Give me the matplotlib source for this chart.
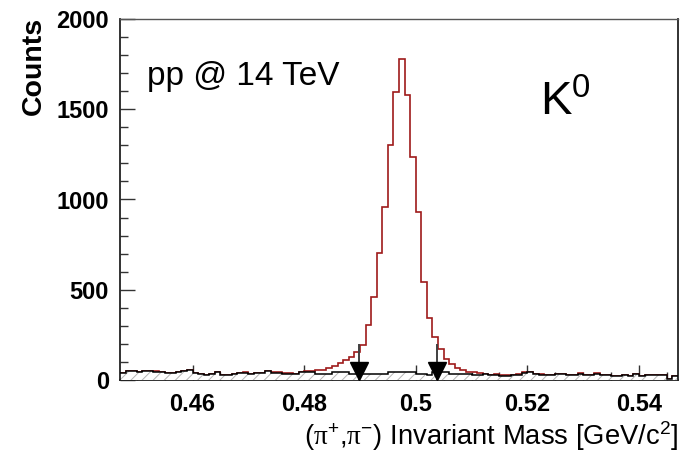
import matplotlib
matplotlib.use("Agg")
import matplotlib.pyplot as plt
import numpy as np

# pi+ pi- invariant mass, K0 peak, 100 bins of 1 MeV
mass_lo = 0.447
bin_width = 0.001

# background (black, hatched)
background = [
    37, 48, 48, 42, 48, 48, 42, 42, 37, 37,
    42, 48, 55, 37, 33, 29, 33, 42, 29, 29,
    33, 37, 37, 33, 37, 37, 48, 37, 37, 33,
    33, 33, 42, 42, 42, 33, 33, 33, 42, 42,
    42, 33, 33, 33, 33, 33, 33, 33, 42, 42,
    42, 42, 42, 33, 33, 29, 42, 42, 42, 33,
    33, 33, 33, 29, 29, 33, 29, 29, 24, 24,
    29, 29, 37, 42, 33, 29, 29, 29, 33, 33,
    29, 29, 33, 29, 29, 33, 29, 29, 24, 24,
    29, 24, 33, 24, 29, 29, 29, 29, 8, 22,
]

# signal + background (red)
total = [
    37, 48, 48, 42, 48, 48, 51, 42, 37, 37,
    42, 51, 55, 37, 33, 29, 33, 42, 29, 29,
    33, 37, 42, 33, 37, 37, 51, 42, 42, 37,
    37, 33, 46, 48, 51, 55, 58, 66, 79, 94,
    111, 129, 157, 194, 305, 461, 703, 960, 1302, 1597,
    1778, 1579, 1235, 930, 543, 343, 240, 172, 116, 89,
    66, 55, 45, 42, 40, 33, 29, 33, 29, 29,
    29, 33, 42, 42, 33, 33, 29, 29, 33, 33,
    29, 29, 37, 29, 29, 37, 29, 29, 24, 24,
    29, 24, 33, 24, 29, 29, 29, 29, 8, 22,
]

# mass window markers
cut_x = [0.4899, 0.5038]
cut_top = 195

edges = mass_lo + bin_width * np.arange(len(total) + 1)

plt.rcParams['font.family'] = ['Liberation Sans', 'DejaVu Sans']
plt.rcParams['mathtext.fontset'] = 'custom'
plt.rcParams['mathtext.rm'] = 'Liberation Serif'
plt.rcParams['mathtext.sf'] = 'Liberation Sans'
plt.rcParams['hatch.linewidth'] = 0.7

fig = plt.figure(figsize=(6.86, 4.65), dpi=100)
ax = fig.add_axes([120 / 686, 1 - 380 / 465, 558 / 686, 361 / 465])

# signal + background
ax.stairs(total, edges, color='#9e1a1a', linewidth=1.2, zorder=2)

# background, hatched
ax.stairs(background, edges, fill=True, facecolor='white', edgecolor='#b4b4b4',
          hatch='///', linewidth=0, zorder=3)
ax.stairs(background, edges, color='black', linewidth=1.1, zorder=4)

# cut arrows
for x in cut_x:
    ax.plot([x, x], [0, cut_top], color='#404040', linewidth=1.4, zorder=5)
    ax.plot([x], [50], marker='v', markersize=12.7, color='black',
            linestyle='none', zorder=6)

ax.set_xlim(0.447, 0.547)
ax.set_ylim(0, 2000)
ax.set_xticks([0.46, 0.48, 0.50, 0.52, 0.54])
ax.set_xticklabels(['0.46', '0.48', '0.5', '0.52', '0.54'])
ax.set_xticks(np.arange(0.450, 0.547, 0.005), minor=True)
ax.set_yticks([0, 500, 1000, 1500, 2000])
ax.set_yticks(np.arange(0, 2001, 100), minor=True)

ax.tick_params(which='both', direction='in', colors='#333333', width=1.0,
               labelcolor='black', labelsize=17)
ax.tick_params(which='major', length=11)
ax.tick_params(which='minor', length=5.5)
ax.tick_params(axis='x', pad=9)
ax.tick_params(axis='y', pad=8)
for lab in ax.get_xticklabels() + ax.get_yticklabels():
    lab.set_fontweight('bold')

for side in ['left', 'bottom', 'right']:
    ax.spines[side].set_linewidth(1.3)
    ax.spines[side].set_color('#222222')
ax.spines['top'].set_linewidth(1.0)
ax.spines['top'].set_color('#555555')

fig.text(34 / 686, 1 - 17 / 465, 'Counts', rotation=90, ha='center', va='top',
         fontsize=20.5, fontweight='bold')
fig.text(678 / 686, 1 - 436 / 465,
         r'($\mathrm{\pi}^{\mathsf{+}}$,$\mathrm{\pi}^{\mathsf{-}}$) Invariant Mass [GeV/c$^{\mathsf{2}}$]',
         ha='right', va='center', fontsize=19.7)

ax.text(147 / 686, 1 - 85 / 465, 'pp @ 14 TeV', transform=fig.transFigure,
        ha='left', va='baseline', fontsize=24, zorder=7)
ax.text(540 / 686, 1 - 115 / 465, r'K$^{\mathsf{0}}$', transform=fig.transFigure,
        ha='left', va='baseline', fontsize=34, zorder=7)

fig.savefig('out.png', dpi=100, facecolor='white')
